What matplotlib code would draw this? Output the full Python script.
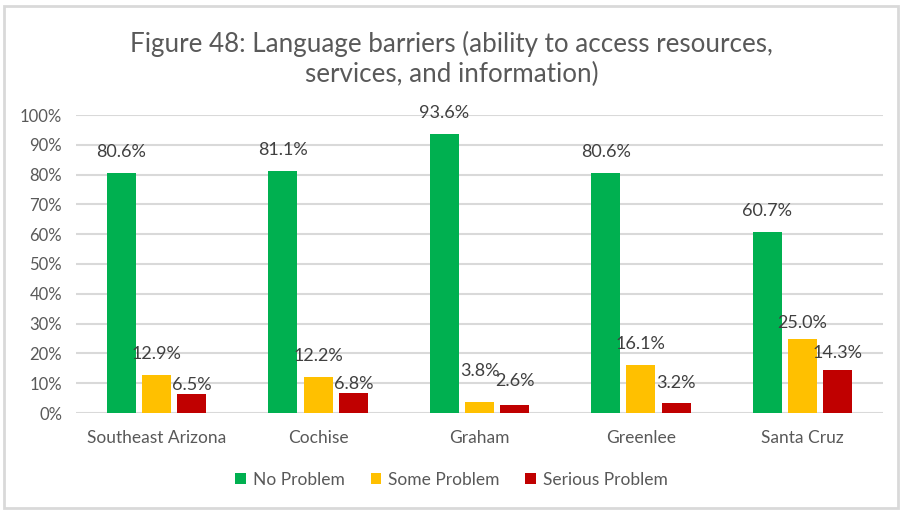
import numpy as np
import matplotlib.pyplot as plt
from matplotlib.patches import Rectangle

plt.rcParams['font.family'] = ['Lato', 'DejaVu Sans']

regions = ['Southeast Arizona', 'Cochise', 'Graham', 'Greenlee', 'Santa Cruz']
no_problem = [80.6, 81.1, 93.6, 80.6, 60.7]
some_problem = [12.9, 12.2, 3.8, 16.1, 25.0]
serious_problem = [6.5, 6.8, 2.6, 3.2, 14.3]
series_names = ['No Problem', 'Some Problem', 'Serious Problem']
colors = ['#00B050', '#FFC000', '#C00000']
text_gray = '#595959'

# how far (px) each value label sits above its bar, nudged so they don't collide
label_lift = [
    [21, 21, 21, 21, 21],
    [21, 21, 31, 21, 16],
    [9, 9, 24, 20, 17],
]

fig = plt.figure(figsize=(9.03, 5.12), dpi=100)
ax = fig.add_axes([76 / 903, 1 - 413 / 512, 807 / 903, 298 / 512])

# chart border
fig.patches.append(Rectangle((4 / 903, 4 / 512), 894 / 903, 502 / 512,
                             transform=fig.transFigure, fill=False,
                             edgecolor='#d9d9d9', linewidth=2))

x = np.arange(len(regions))
width = 0.18
step = 0.218
for i, (vals, name, col) in enumerate(zip([no_problem, some_problem, serious_problem],
                                          series_names, colors)):
    bars = ax.bar(x + (i - 1) * step, vals, width, color=col, label=name, zorder=3)
    for b, v, lift in zip(bars, vals, label_lift[i]):
        ax.annotate(f'{v:.1f}%', (b.get_x() + b.get_width() / 2, v),
                    xytext=(0, lift * 0.72), textcoords='offset points',
                    ha='center', va='center', fontsize=13, color='#404040')

ax.set_xlim(-0.5, len(regions) - 0.5)
ax.set_ylim(0, 100)
ax.set_yticks(np.arange(0, 101, 10))
ax.set_yticklabels([f'{t}%' for t in range(0, 101, 10)])
ax.set_xticks(x)
ax.set_xticklabels(regions)
ax.yaxis.grid(True, color='#d9d9d9', linewidth=1.5, zorder=0)
for s in ax.spines.values():
    s.set_visible(False)
ax.tick_params(axis='both', length=0, colors=text_gray)
ax.tick_params(axis='x', pad=12, labelsize=12.5)
ax.tick_params(axis='y', pad=10, labelsize=12)

fig.text(0.5, 1 - 59 / 512, 'Figure 48: Language barriers (ability to access resources,\nservices, and information)',
         ha='center', va='center', fontsize=18.7, color=text_gray, linespacing=1.2)

fig.legend(loc='center', bbox_to_anchor=(0.5, 1 - 480 / 512), ncol=3, frameon=False,
           fontsize=12.5, labelcolor=text_gray, handlelength=0.6, handleheight=0.6,
           columnspacing=1.5, handletextpad=0.4)

fig.savefig('out.png', dpi=100)
